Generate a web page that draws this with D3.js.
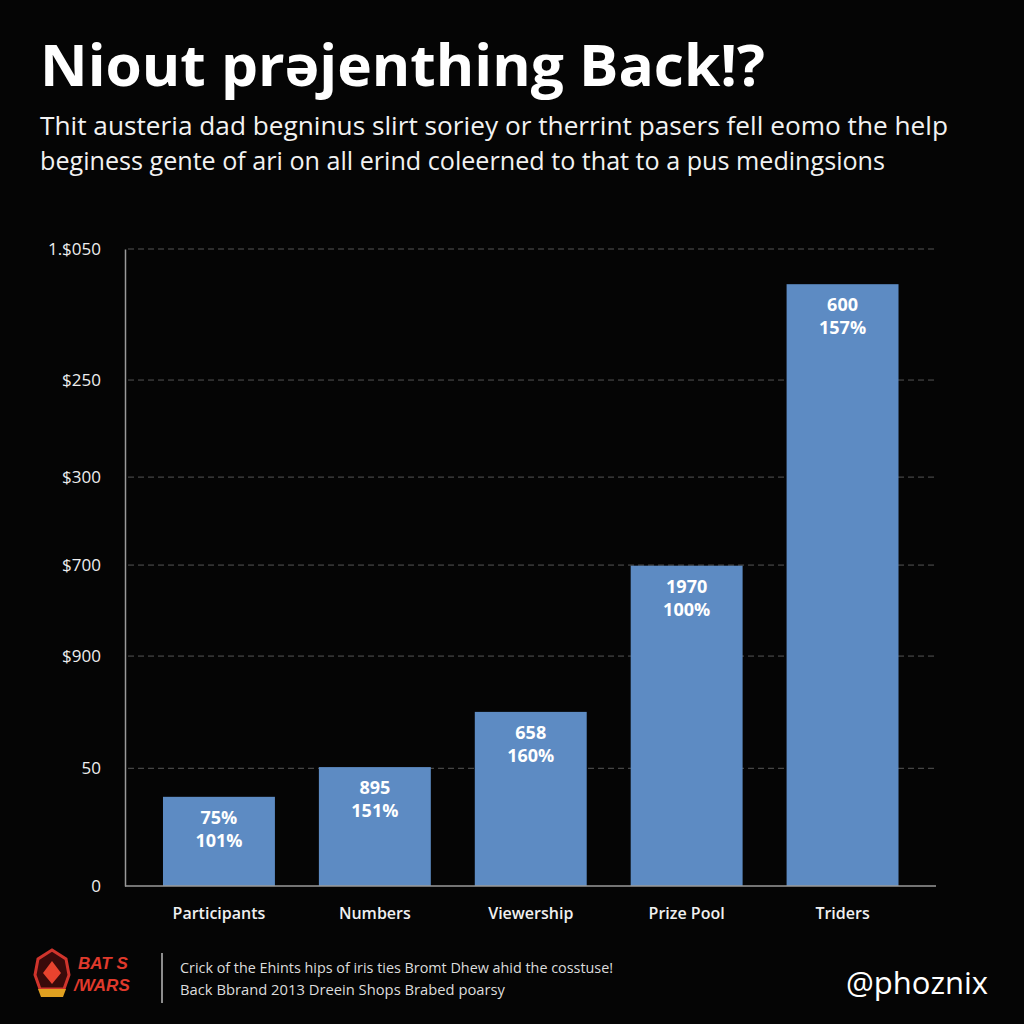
<!DOCTYPE html>
<html>
<head>
<meta charset="utf-8">
<script src="https://cdn.jsdelivr.net/npm/d3@7/dist/d3.min.js"></script>
<style>
  html, body { margin: 0; padding: 0; background: #050505; }
  svg { display: block; }
</style>
</head>
<body>
<svg id="chart" width="1024" height="1024"></svg>
<script>
// ---- data ----
const categories = ["Participants", "Numbers", "Viewership", "Prize Pool", "Triders"];
const values = [147, 196, 287, 528, 992];
const labelTop = ["75%", "895", "658", "1970", "600"];
const labelBottom = ["101%", "151%", "160%", "100%", "157%"];
const tickValues = [0, 194, 379, 529, 674, 834, 1050];
const tickLabels = ["0", "50", "$900", "$700", "$300", "$250", "1.$050"];
const titleText = "Niout prəjenthing Back!?";
const subtitleLines = [
  "Thit austeria dad begninus slirt soriey or therrint pasers fell eomo the help",
  "beginess gente of ari on all erind coleerned to that to a pus medingsions"
];
const footerLines = [
  "Crick of the Ehints hips of iris ties Bromt Dhew ahid the cosstuse!",
  "Back Bbrand 2013 Dreein Shops Brabed poarsy"
];
const handle = "@phoznix";

// ---- layout ----
const svg = d3.select("#chart");
svg.append("rect").attr("width", 1024).attr("height", 1024).attr("fill", "#050505");

const x = d3.scaleBand().domain(categories).range([141, 920.5]).paddingInner(0.282).paddingOuter(0.141);
const y = d3.scaleLinear().domain([0, 1050]).range([886, 249]);

// title
svg.append("text").attr("x", 40).attr("y", 86)
  .attr("font-family", "'Open Sans', 'Noto Sans', sans-serif").attr("font-weight", 700)
  .attr("font-size", 57).attr("fill", "#ffffff")
  .attr("textLength", 725).attr("lengthAdjust", "spacingAndGlyphs")
  .text(titleText);

// subtitle
const subW = [908, 845];
subtitleLines.forEach((t, i) => {
  svg.append("text").attr("x", 40).attr("y", 135 + i * 35)
    .attr("font-family", "'Open Sans', 'Noto Sans', sans-serif").attr("font-weight", 400)
    .attr("font-size", 26).attr("fill", "#f2f2f2")
    .attr("textLength", subW[i]).attr("lengthAdjust", "spacingAndGlyphs")
    .text(t);
});

// gridlines
const grid = svg.append("g");
grid.selectAll("line").data(tickValues.filter(v => v > 0)).join("line")
  .attr("x1", 128).attr("x2", 936)
  .attr("y1", d => y(d)).attr("y2", d => y(d))
  .attr("stroke", "#555555").attr("stroke-width", 1).attr("stroke-dasharray", "6,4");

// y axis
const yAxis = d3.axisLeft(y).tickValues(tickValues)
  .tickFormat((d, i) => tickLabels[i]).tickSize(0).tickPadding(24);
const gy = svg.append("g").attr("transform", "translate(125,0)").call(yAxis);
gy.select(".domain").attr("stroke", "#9a9a9a").attr("stroke-width", 1.5);
gy.selectAll("text").attr("fill", "#eeeeee").attr("font-size", 17)
  .attr("font-family", "'Open Sans', 'Noto Sans', sans-serif");

// bars
svg.append("g").selectAll("rect").data(categories).join("rect")
  .attr("x", d => x(d)).attr("width", x.bandwidth())
  .attr("y", (d, i) => y(values[i])).attr("height", (d, i) => y(0) - y(values[i]))
  .attr("fill", "#5d8bc3");

// x baseline
svg.append("line").attr("x1", 125).attr("x2", 936).attr("y1", y(0)).attr("y2", y(0))
  .attr("stroke", "#9a9a9a").attr("stroke-width", 1.5);

// x axis labels
const xAxis = d3.axisBottom(x).tickSize(0).tickPadding(22);
const gx = svg.append("g").attr("transform", `translate(0,${y(0)})`).call(xAxis);
gx.select(".domain").remove();
gx.selectAll("text").attr("fill", "#f0f0f0").attr("font-size", 16).attr("font-weight", 600)
  .attr("font-family", "'Open Sans', 'Noto Sans', sans-serif");

// bar labels
const lbl = svg.append("g").attr("font-family", "'Open Sans', 'Noto Sans', sans-serif")
  .attr("font-weight", 700).attr("font-size", 18).attr("fill", "#ffffff").attr("text-anchor", "middle");
categories.forEach((c, i) => {
  const cx = x(c) + x.bandwidth() / 2;
  const top = y(values[i]);
  lbl.append("text").attr("x", cx).attr("y", top + 27).text(labelTop[i]);
  lbl.append("text").attr("x", cx).attr("y", top + 50).text(labelBottom[i]);
});

// footer logo
const logo = svg.append("g").attr("transform", "translate(52,975)");
logo.append("path").attr("d", "M0,-25 L14,-16 L17,0 L12,14 L-12,14 L-17,0 L-14,-16 Z")
  .attr("fill", "#3a0a0a").attr("stroke", "#d0342c").attr("stroke-width", 3);
logo.append("path").attr("d", "M0,-14 L9,-2 L0,9 L-9,-2 Z").attr("fill", "#e8432e");
logo.append("path").attr("d", "M-14,14 L14,14 L11,22 L-11,22 Z").attr("fill", "#e0a020");
const lt = svg.append("g").attr("font-family", "'Liberation Sans', sans-serif")
  .attr("font-weight", 700).attr("font-style", "italic").attr("fill", "#e03a2c").attr("font-size", 17);
lt.append("text").attr("x", 78).attr("y", 969).text("BAT S");
lt.append("text").attr("x", 74).attr("y", 991).text("/WARS");
svg.append("line").attr("x1", 162).attr("x2", 162).attr("y1", 953).attr("y2", 1003)
  .attr("stroke", "#bbbbbb").attr("stroke-width", 1.5);

// footer text
footerLines.forEach((t, i) => {
  svg.append("text").attr("x", 180).attr("y", 973 + i * 22)
    .attr("font-family", "'Open Sans', 'Noto Sans', sans-serif").attr("font-size", 14)
    .attr("fill", "#dddddd")
    .attr("textLength", [433, 325][i]).attr("lengthAdjust", "spacingAndGlyphs")
    .text(t);
});

svg.append("text").attr("x", 988).attr("y", 994).attr("text-anchor", "end")
  .attr("font-family", "'Open Sans', 'Noto Sans', sans-serif").attr("font-size", 31)
  .attr("fill", "#ffffff").text(handle);
</script>
</body>
</html>
